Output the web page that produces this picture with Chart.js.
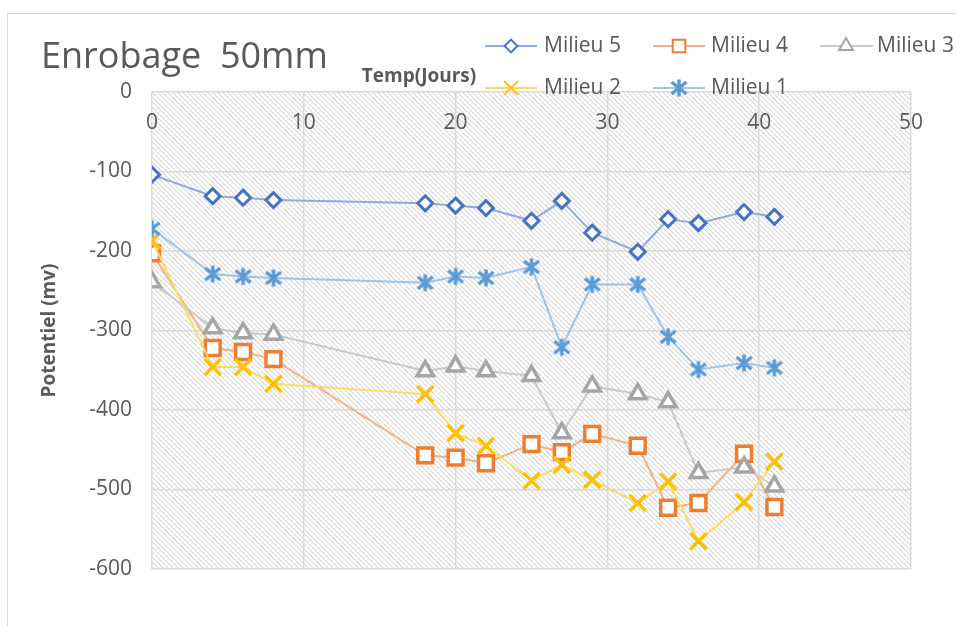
<!DOCTYPE html>
<html><head><meta charset="utf-8">
<script src="https://cdn.jsdelivr.net/npm/chart.js@4"></script>
<style>html,body{margin:0;padding:0;background:#fff;overflow:hidden}#wrap{width:956px;height:626px;position:relative}</style>
</head><body><div id="wrap"><canvas id="c" width="956" height="626"></canvas></div>
<script>
const chartTitle = 'Enrobage  50mm';
const xAxisTitle = 'Temp(Jours)';
const yAxisTitle = 'Potentiel (mv)';
const days = [0, 4, 6, 8, 18, 20, 22, 25, 27, 29, 32, 34, 36, 39, 41];
const milieu5 = [-104, -131, -133, -136, -140, -143, -146, -162, -137, -177, -201, -160, -165, -151, -157];
const milieu4 = [-203, -322, -327, -336, -457, -460, -467, -443, -453, -430, -445, -523, -517, -455, -522];
const milieu3 = [-239, -297, -303, -305, -351, -345, -351, -357, -429, -370, -380, -390, -479, -472, -496];
const milieu2 = [-187, -346, -346, -367, -380, -429, -445, -489, -469, -488, -517, -490, -565, -516, -465];
const milieu1 = [-172, -229, -232, -234, -240, -232, -234, -220, -321, -242, -242, -308, -349, -341, -347];
const seriesNames = ['Milieu 5', 'Milieu 4', 'Milieu 3', 'Milieu 2', 'Milieu 1'];
const xTicks = [0, 10, 20, 30, 40, 50];
const yTicks = [0, -100, -200, -300, -400, -500, -600];

const TXT = '#595959';
const FONT = "'Open Sans', 'Noto Sans', sans-serif";

function makeStar(color) {
  const c = document.createElement('canvas');
  c.width = 22; c.height = 22;
  const g = c.getContext('2d');
  g.strokeStyle = color; g.lineWidth = 3.5; g.lineCap = 'butt';
  g.beginPath();
  g.moveTo(11, 2.5); g.lineTo(11, 19.5);
  g.moveTo(3.5, 5); g.lineTo(18.5, 17);
  g.moveTo(18.5, 5); g.lineTo(3.5, 17);
  g.stroke();
  return c;
}
const starImg = makeStar('#5B9BD5');

function pts(arr) { return days.map((d, i) => ({ x: d, y: arr[i] })); }

const styles = [
  { data: milieu5, line: '#8FAADC', mark: '#4472C4', ps: 'rectRot', r: 7.5, bw: 3 },
  { data: milieu4, line: '#F4B183', mark: '#ED7D31', ps: 'rect', r: 10.5, bw: 3.5 },
  { data: milieu3, line: '#C9C9C9', mark: '#A5A5A5', ps: 'triangle', r: 9.5, bw: 3.5 },
  { data: milieu2, line: '#FFD966', mark: '#FFC000', ps: 'crossRot', r: 11.5, bw: 3.5 },
  { data: milieu1, line: '#9DC3E6', mark: '#5B9BD5', ps: starImg, r: 9, bw: 3.5 }
];

const datasets = styles.map((s, i) => ({
  label: seriesNames[i],
  data: pts(s.data),
  showLine: true,
  borderColor: s.line,
  borderWidth: 2,
  pointStyle: s.ps,
  pointRadius: s.r,
  pointBorderWidth: s.bw,
  pointBorderColor: s.mark,
  pointBackgroundColor: '#ffffff',
  order: 5 - i,
  tension: 0
}));

function makePattern(ctx) {
  const t = document.createElement('canvas');
  t.width = 5; t.height = 5;
  const g = t.getContext('2d');
  g.fillStyle = '#ffffff'; g.fillRect(0, 0, 5, 5);
  g.fillStyle = '#d4d4d4';
  for (let i = 0; i < 5; i++) g.fillRect(i, i, 1, 1);
  g.fillStyle = '#f2f2f2';
  for (let i = 0; i < 5; i++) g.fillRect((i + 1) % 5, i, 1, 1);
  return ctx.createPattern(t, 'repeat');
}

const deco = {
  id: 'deco',
  beforeDraw(chart) {
    const ctx = chart.ctx, a = chart.chartArea;
    ctx.save();
    ctx.fillStyle = '#ffffff';
    ctx.fillRect(0, 0, chart.width, chart.height);
    ctx.strokeStyle = '#d9d9d9'; ctx.lineWidth = 1;
    ctx.strokeRect(7.5, 13.5, 1000, 700);
    ctx.fillStyle = makePattern(ctx);
    ctx.fillRect(a.left, a.top, a.right - a.left, a.bottom - a.top);
    ctx.restore();
  },
  afterDraw(chart) {
    const ctx = chart.ctx, a = chart.chartArea, xs = chart.scales.x;
    ctx.save();
    ctx.fillStyle = TXT;
    ctx.font = "36px " + FONT;
    ctx.textAlign = 'left'; ctx.textBaseline = 'alphabetic';
    ctx.fillText(chartTitle, 41, 68);
    ctx.font = "bold 19px " + FONT;
    ctx.textAlign = 'center'; ctx.textBaseline = 'middle';
    ctx.fillText(xAxisTitle, 419, 77);
    ctx.font = "21px " + FONT;
    xTicks.forEach(t => ctx.fillText(String(t), xs.getPixelForValue(t), a.top + 31));
    const cols = [[485, 537, 511, 544], [653, 705, 679, 711], [820, 873, 846, 877]];
    const rows = [46, 88];
    chart.data.datasets.forEach((ds, i) => {
      const c = cols[i % 3], y = rows[Math.floor(i / 3)];
      ctx.strokeStyle = ds.borderColor; ctx.lineWidth = 2;
      ctx.beginPath(); ctx.moveTo(c[0], y); ctx.lineTo(c[1], y); ctx.stroke();
      ctx.strokeStyle = ds.pointBorderColor; ctx.fillStyle = '#ffffff';
      Chart.helpers.drawPoint(ctx, { pointStyle: ds.pointStyle, radius: ds.pointRadius * 0.85, rotation: 0, borderWidth: ds.pointBorderWidth }, c[2], y);
      ctx.fillStyle = TXT; ctx.font = "21px " + FONT;
      ctx.textAlign = 'left'; ctx.textBaseline = 'middle';
      ctx.fillText(ds.label, c[3], y);
    });
    ctx.restore();
  }
};

new Chart(document.getElementById('c'), {
  type: 'scatter',
  data: { datasets },
  plugins: [deco],
  options: {
    responsive: false,
    animation: false,
    events: [],
    layout: { padding: { left: 8, top: 92, right: 45, bottom: 57 } },
    plugins: { legend: { display: false }, tooltip: { enabled: false }, title: { display: false } },
    scales: {
      x: {
        type: 'linear', position: 'top', min: 0, max: 50,
        afterBuildTicks(s) { s.ticks = xTicks.map(v => ({ value: v })); },
        ticks: { display: false },
        grid: { color: '#d9d9d9', lineWidth: 1.5, drawTicks: false },
        border: { display: false },
        afterFit(s) { s.height = 0; }
      },
      y: {
        type: 'linear', min: -600, max: 0,
        afterBuildTicks(s) { s.ticks = yTicks.map(v => ({ value: v })); },
        ticks: { color: TXT, font: { size: 21, family: FONT }, padding: 20 },
        grid: { color: '#d9d9d9', lineWidth: 1.5, drawTicks: false },
        border: { display: false },
        title: { display: true, text: yAxisTitle, color: TXT, font: { size: 19, weight: 'bold', family: FONT }, padding: { top: 30, bottom: 0 } },
        afterFit(s) { s.width = 144; }
      }
    }
  }
});
</script></body></html>
